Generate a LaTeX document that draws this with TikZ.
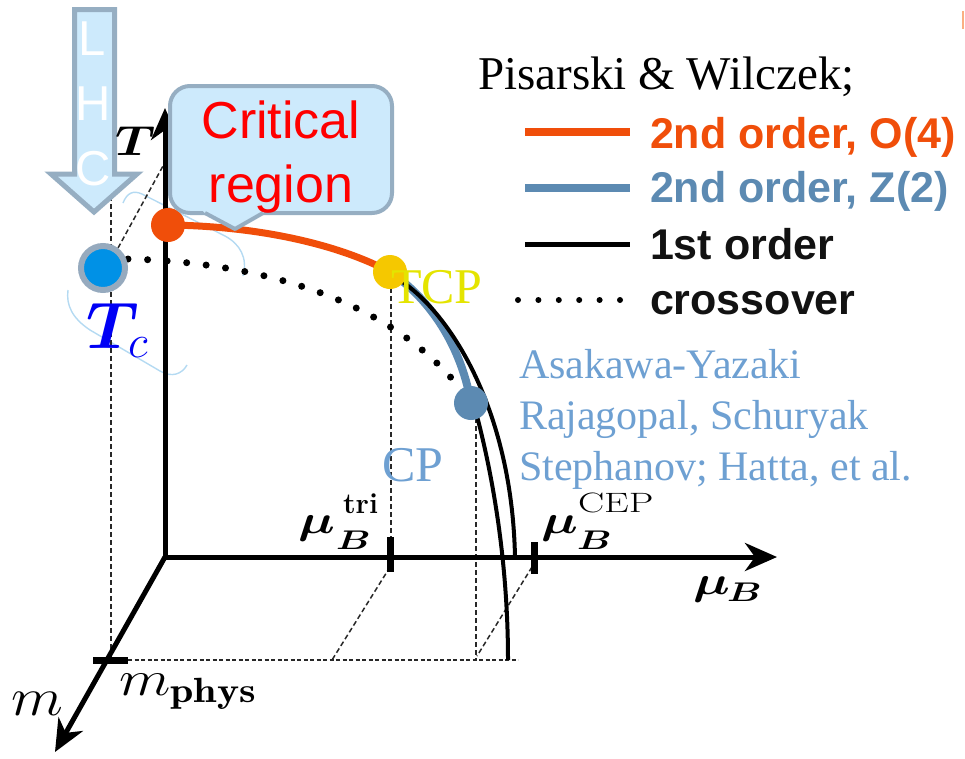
\RequirePackage{fix-cm}
\documentclass[tikz,border=0pt]{standalone}
\usepackage{amsmath}
\usepackage{graphicx}
\usepackage{fontspec}
\usepackage{bm}
\usetikzlibrary{arrows.meta}
\newfontfamily\arialf{Liberation Sans}
\newfontfamily\timesf{Liberation Serif}
\newcommand\fsz[1]{\fontsize{#1}{#1}\selectfont}
\definecolor{o4c}{RGB}{240,78,10}
\definecolor{z2c}{RGB}{92,138,178}
\definecolor{cpblue}{RGB}{110,160,210}
\definecolor{tcblue}{RGB}{0,0,245}
\definecolor{tcfill}{RGB}{0,145,230}
\definecolor{ringgray}{RGB}{150,170,190}
\definecolor{callfill}{RGB}{205,234,252}
\definecolor{callborder}{RGB}{150,174,194}
\definecolor{critred}{RGB}{255,0,0}
\definecolor{dotyellow}{RGB}{245,200,0}
\definecolor{tcpyellow}{RGB}{228,228,0}
\definecolor{faintblue}{RGB}{180,218,242}
\definecolor{dashgray}{RGB}{40,40,40}
\definecolor{artorange}{RGB}{250,175,130}
\begin{document}
\begin{tikzpicture}[x=1pt,y=-1pt,
  txt/.style={inner sep=0pt, outer sep=0pt, anchor=base west},
  dashln/.style={draw=dashgray, line width=1.5pt, dash pattern=on 5pt off 3pt},
  axisln/.style={line width=5pt},
  dotln/.style={line width=7pt, line cap=round, dash pattern=on 0pt off 19.6pt},
  tickln/.style={line width=7pt},
  faint/.style={draw=faintblue, line width=1.4pt},
  calloutstyle/.style={fill=callfill, draw=callborder, line width=4pt},
]
\useasboundingbox (0,0) rectangle (965,758);

% named points
\coordinate (O) at (165,557);
\coordinate (Ttip) at (165,108);
\coordinate (Mutip) at (777,557);
\coordinate (Mtip) at (55,752);
\coordinate (TcP) at (103,268);
\coordinate (O4P) at (168,225);
\coordinate (TCPP) at (390,272);
\coordinate (CPP) at (471,403);

% faint arcs
\draw[faint] (123,203) .. controls (127,193) and (133,190) .. (142,194) -- (225,236) .. controls (240,244) and (248,258) .. (243,276);
\draw[faint] (68,290) .. controls (66,305) and (72,318) .. (90,330) -- (160,371) .. controls (172,378) and (182,374) .. (187,365);

% dashed projection lines
\draw[dashln] (111,180) -- (111,660);
\draw[dashln] (118,248) -- (163,166);
\draw[dashln] (391,288) -- (391,540);
\draw[dashln] (390,567) -- (332,660);
\draw[dashln] (476,418) -- (476,660);
\draw[dashln] (532,567) -- (477,656);
\draw[dashln, dash pattern=on 4pt off 2.5pt] (128,660) -- (518,660);

% axes
\draw[axisln, -{Stealth[length=32pt,width=28pt,inset=10pt]}] (O) -- (Mutip);
\draw[axisln, -{Stealth[length=32pt,width=28pt,inset=10pt]}] (O) -- (Ttip);
\draw[axisln, -{Stealth[length=32pt,width=28pt,inset=10pt]}] (O) -- (Mtip);
\fill (O) circle (2.5pt);

% ticks
\draw[tickln] (390,537) -- (390,572);
\draw[tickln] (534,542) -- (534,574);
\draw[tickln] (93,660) -- (128,660);

% curves
\draw[dotln] (128,259) .. controls (260,262) and (400,300) .. (CPP);
\draw[o4c, line width=7pt] (O4P) .. controls (260,226) and (340,245) .. (TCPP);
\draw[z2c, line width=8pt] (TCPP) .. controls (425,295) and (460,340) .. (CPP);
\draw[line width=4pt] (395,277) .. controls (450,310) and (512,410) .. (515,557);
\draw[line width=4pt] (474,405) .. controls (492,470) and (508,560) .. (508,660);

% points
\fill[o4c] (O4P) circle (17pt);
\fill[dotyellow] (TCPP) circle (17pt);
\fill[z2c] (CPP) circle (17pt);
\draw[fill=tcfill, draw=ringgray, line width=6pt] (TcP) circle (22pt);

% callout
\draw[calloutstyle, rounded corners=20pt] (170,86) rectangle (392,213);
\fill[callfill] (201,209) -- (205,213) -- (235,229) -- (263,213) -- (267,209) -- cycle;
\draw[draw=callborder, line width=4pt, line join=round] (205,213) -- (235,229) -- (263,213);

% LHC arrow
\draw[calloutstyle, line width=5pt] (74.5,9.5) -- (114.5,9.5) -- (114.5,174) -- (137,174) -- (94,212) -- (51,174) -- (74.5,174) -- cycle;
\node[txt, anchor=base, font={\arialf\fsz{49}}, text=white] (lL) at (92,55) {L};
\node[txt, anchor=base, font={\arialf\fsz{49}}, text=white] (lH) at (93,120) {H};
\node[txt, anchor=base, font={\arialf\fsz{49}}, text=white] (lC) at (93,185) {C};

% callout text
\node[txt, anchor=base, font={\arialf\fsz{52}}, text=critred] (crit1) at (281,138) {Critical};
\node[txt, anchor=base, font={\arialf\fsz{52}}, text=critred] (crit2) at (281,202) {region};

% legend
\node[txt, font={\timesf\fsz{47}}] (pw) at (478,89) {Pisarski \& Wilczek;};
\draw[o4c, line width=8pt] (525,132) -- (630,132);
\draw[z2c, line width=8pt] (525,188) -- (630,188);
\draw[line width=5pt] (525,244) -- (630,244);
\draw[line width=6pt, line cap=round, dash pattern=on 0pt off 20.4pt] (518,300) -- (621,300);
\node[txt, font={\arialf\bfseries\fsz{43}}, text=o4c] (lg1) at (650,148) {2nd order, O(4)};
\node[txt, font={\arialf\bfseries\fsz{43}}, text=z2c] (lg2) at (650,202) {2nd order, Z(2)};
\node[txt, font={\arialf\bfseries\fsz{43}}, text=black!93] (lg3) at (650,259) {1st order};
\node[txt, font={\arialf\bfseries\fsz{43}}, text=black!93] (lg4) at (650,314) {crossover};

% references
\node[txt, font={\timesf\fsz{42}}, text=cpblue] (r1) at (519,378) {Asakawa-Yazaki};
\node[txt, font={\timesf\fsz{42}}, text=cpblue] (r2) at (519,429) {Rajagopal, Schuryak};
\node[txt, font={\timesf\fsz{42}}, text=cpblue] (r3) at (519,480) {Stephanov; Hatta, et al.};

% point labels
\node[txt, font={\timesf\fsz{50}}, text=tcpyellow] (tcpl) at (391,303) {TCP};
\node[txt, font={\timesf\fsz{50}}, text=cpblue] (cpl) at (382,481) {CP};
\node[txt, font={\fsz{66}}, text=tcblue] (tcl) at (86,348) {$\bm{T}_{c}$};

% axis labels
\node[txt, font={\fsz{42}}] (tl) at (115,155) {\scalebox{1.2}[1]{$\bm{T}$}};
\node[txt, font={\fsz{54}}] (ml) at (12,715) {\scalebox{1.12}[1]{$m$}};
\node[txt, font={\fsz{50}}] (mpl) at (119,695) {\scalebox{1.2}[1]{$m_{\mathbf{phys}}$}};

\node[txt, font={\fsz{40}}] (mua) at (693,594) {\scalebox{1.3}[1]{$\bm{\mu}$}};
\node[txt, font={\fsz{27}}] (mua2) at (727,601) {\scalebox{1.4}[1]{$\bm{B}$}};

\node[txt, font={\fsz{40}}] (mut) at (298,533) {\scalebox{1.3}[1]{$\bm{\mu}$}};
\node[txt, font={\fsz{27}}] (mut2) at (336,549) {\scalebox{1.4}[1]{$\bm{B}$}};
\node[txt, font={\fsz{29}\bfseries}] (mut3) at (343,513) {tri};

\node[txt, font={\fsz{40}}] (muc) at (541,533) {\scalebox{1.3}[1]{$\bm{\mu}$}};
\node[txt, font={\fsz{27}}] (muc2) at (577,549) {\scalebox{1.4}[1]{$\bm{B}$}};
\node[txt, font={\fsz{28}}] (muc3) at (578,512) {\scalebox{1.4}[1]{CEP}};

% stray mark
\draw[artorange, line width=1.5pt] (963,11) -- (963,29);
\end{tikzpicture}
\end{document}
